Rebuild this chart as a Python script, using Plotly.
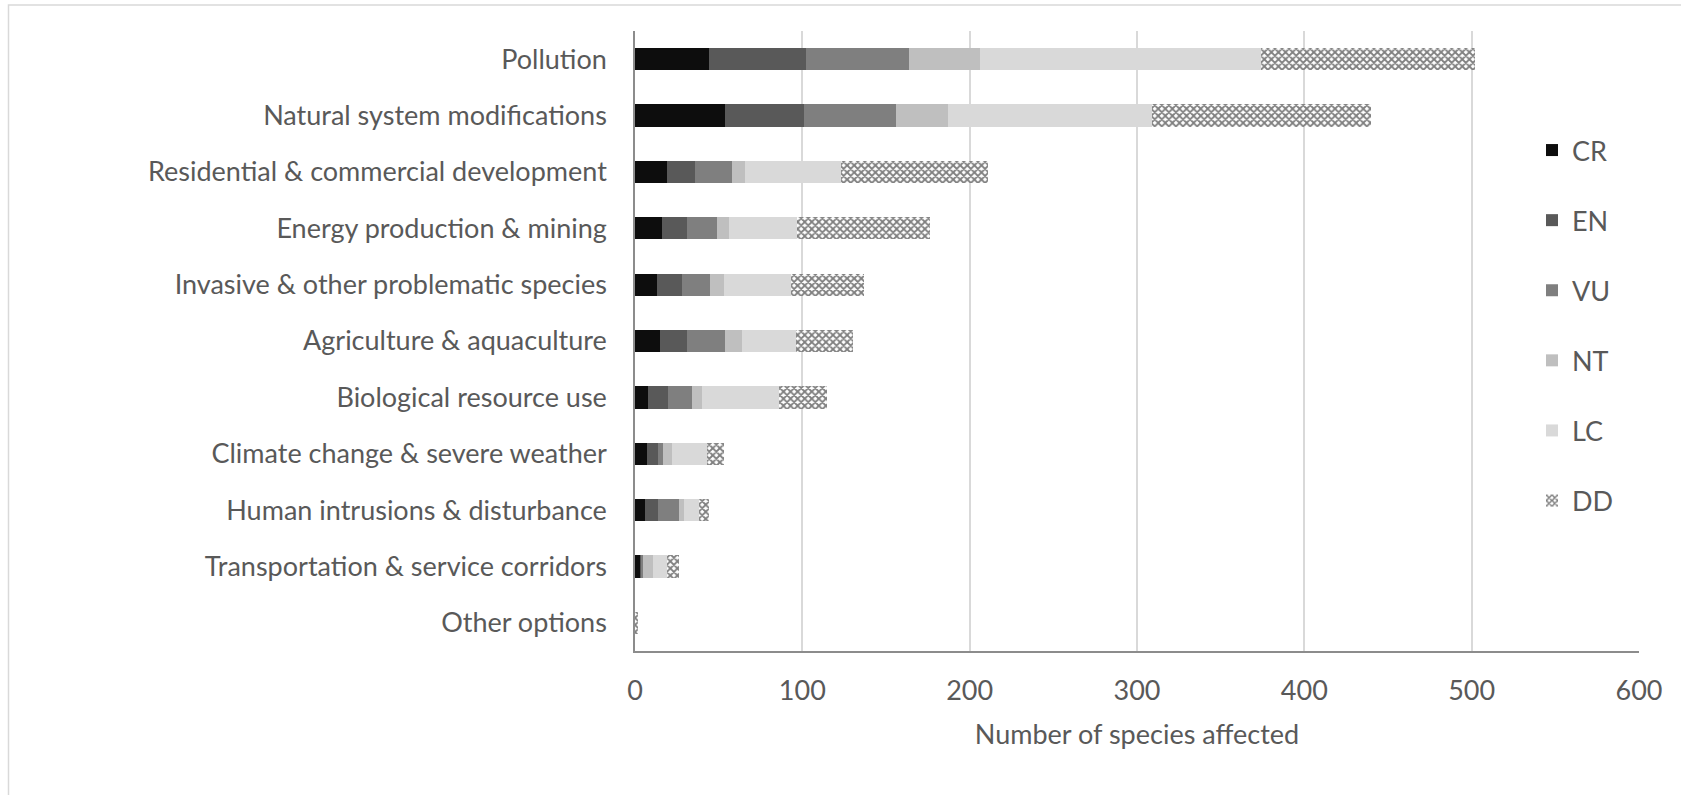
import plotly.graph_objects as go

# Threat categories (top to bottom) and species counts per IUCN status
threats = [
    "Pollution",
    "Natural system modifications",
    "Residential & commercial development",
    "Energy production & mining",
    "Invasive & other problematic species",
    "Agriculture & aquaculture",
    "Biological resource use",
    "Climate change & severe weather",
    "Human intrusions & disturbance",
    "Transportation & service corridors",
    "Other options",
]

cr = [44, 54, 19, 16, 13, 15, 8, 7, 6, 3, 0]
en = [58, 47, 17, 15, 15, 16, 12, 7, 8, 1, 0]
vu = [62, 55, 22, 18, 17, 23, 14, 3, 12, 1, 0]
nt = [42, 31, 8, 7, 8, 10, 6, 5, 3, 6, 0]
lc = [168, 122, 57, 41, 40, 32, 46, 21, 9, 8, 0]
dd = [128, 131, 88, 79, 44, 34, 29, 10, 6, 7, 2]

statuses = ["CR", "EN", "VU", "NT", "LC", "DD"]
series = [cr, en, vu, nt, lc, dd]
fills = ["#0d0d0d", "#595959", "#7f7f7f", "#bfbfbf", "#d9d9d9", "#ffffff"]

x_ticks = [0, 100, 200, 300, 400, 500, 600]

W, H = 1681, 795
L, R, T, B = 635, 42, 31, 144
plot_w = W - L - R
plot_h = H - T - B

text_color = "#595959"
font_family = "Lato, Carlito, Calibri, sans-serif"
fs = 27

fig = go.Figure()
for name, vals, col in zip(statuses, series, fills):
    marker = dict(color=col, line=dict(width=0))
    if name == "DD":
        marker["pattern"] = dict(
            shape="x", fgcolor="#7f7f7f", bgcolor="#ffffff",
            size=5, solidity=0.6, fillmode="replace",
        )
    fig.add_trace(go.Bar(
        name=name,
        y=threats,
        x=vals,
        orientation="h",
        marker=marker,
        legendgroup=name,
        hoverinfo="x+y+name",
    ))

# page-px -> paper helpers for decorations outside the plot area
def px_x(p):
    return (p - L) / plot_w

def px_y(p):
    return 1 - (p - T) / plot_h

fig.update_layout(
    width=W,
    height=H,
    margin=dict(l=L, r=R, t=T, b=B),
    barmode="stack",
    bargap=0.605,
    paper_bgcolor="#ffffff",
    plot_bgcolor="#ffffff",
    font=dict(family=font_family, size=fs, color=text_color),
    showlegend=True,
    legend=dict(
        x=px_x(1532),
        y=px_y(126),
        xanchor="left",
        yanchor="top",
        bgcolor="rgba(0,0,0,0)",
        font=dict(size=fs, color=text_color),
        traceorder="grouped",
        tracegroupgap=32,
        itemwidth=30,
    ),
    xaxis=dict(
        range=[0, 600],
        tickvals=x_ticks,
        ticktext=[str(v) for v in x_ticks],
        showgrid=True,
        gridcolor="#d9d9d9",
        gridwidth=1.5,
        zeroline=False,
        showline=True,
        linecolor="#8c8c8c",
        linewidth=1.5,
        ticks="",
        ticklabelstandoff=15,
        tickfont=dict(size=fs, color=text_color),
        title=dict(text="Number of species affected",
                   font=dict(size=fs, color=text_color), standoff=20),
        fixedrange=True,
    ),
    yaxis=dict(
        categoryorder="array",
        categoryarray=threats,
        autorange="reversed",
        showgrid=False,
        showline=True,
        linecolor="#8c8c8c",
        linewidth=1.5,
        ticks="",
        ticklabelstandoff=21,
        tickfont=dict(size=fs, color=text_color),
        fixedrange=True,
    ),
    shapes=[
        dict(
            type="rect", xref="paper", yref="paper",
            x0=px_x(8.5), x1=px_x(W + 10),
            y0=px_y(H + 10), y1=px_y(5),
            line=dict(color="#d9d9d9", width=1.5),
            fillcolor="rgba(0,0,0,0)",
            layer="below",
        )
    ],
)

fig.write_html("out.html")
